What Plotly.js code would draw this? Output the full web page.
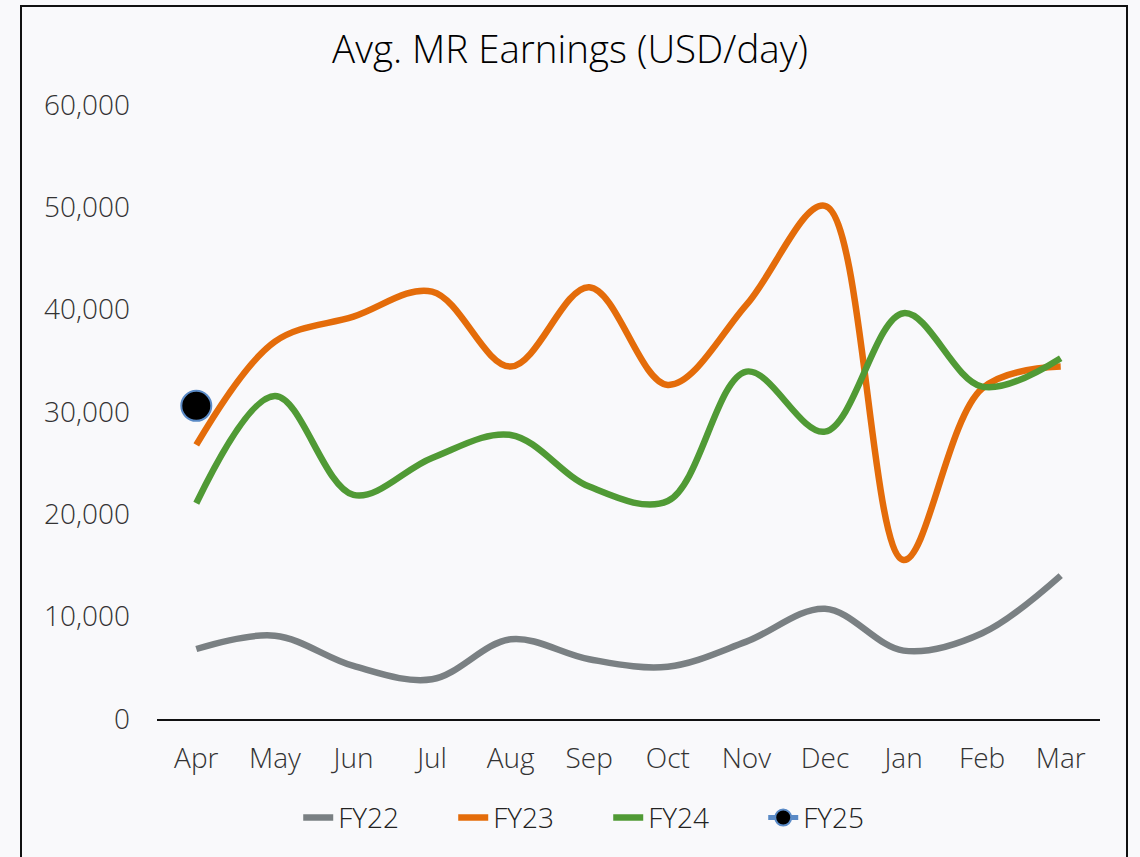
<!DOCTYPE html>
<html>
<head>
<meta charset="utf-8">
<script src="https://cdn.plot.ly/plotly-3.0.1.min.js"></script>
<style>
  html, body { margin: 0; padding: 0; background: #f9f9fb; overflow: hidden; }
  #chart { width: 1140px; height: 857px; }
  #frame { position: absolute; left: 20px; top: 5px; width: 1108px; height: 880px;
           border: 2px solid #111; pointer-events: none; box-sizing: border-box; }
</style>
</head>
<body>
<div id="chart"></div>
<div id="frame"></div>
<script>
const months = ["Apr","May","Jun","Jul","Aug","Sep","Oct","Nov","Dec","Jan","Feb","Mar"];
const fy22 = [6840, 8140, 5180, 3880, 7790, 5840, 5110, 7560, 10780, 6680, 8380, 14010];
const fy23 = [26780, 36880, 39320, 41770, 34440, 42200, 32650, 40470, 50150, 15540, 32300, 34440];
const fy24 = [21080, 31570, 21900, 25510, 27760, 22710, 21300, 33950, 28080, 39660, 32480, 35260];
const fy25 = [30600];
const fy25Months = ["Apr"];

const font = "'Open Sans', Lato, sans-serif";

const traces = [
  { x: months, y: fy22, name: "FY22", type: "scatter", mode: "lines",
    line: { color: "#7a8083", width: 6.5, shape: "spline", smoothing: 1 } },
  { x: months, y: fy23, name: "FY23", type: "scatter", mode: "lines",
    line: { color: "#e46c0a", width: 6.5, shape: "spline", smoothing: 1 } },
  { x: months, y: fy24, name: "FY24", type: "scatter", mode: "lines",
    line: { color: "#509a35", width: 6.5, shape: "spline", smoothing: 1 } },
  { x: fy25Months, y: fy25, name: "FY25", type: "scatter", mode: "lines+markers",
    line: { color: "#5a8ac6", width: 5 },
    marker: { color: "#000000", size: 30, line: { color: "#5a8ac6", width: 2 } } }
];

const layout = {
  width: 1140, height: 857,
  paper_bgcolor: "#f9f9fb", plot_bgcolor: "#f9f9fb",
  margin: { l: 157, r: 40, t: 105, b: 138 },
  font: { family: font, color: "#333333", size: 28, weight: 300 },
  title: { text: "Avg. MR Earnings (USD/day)", font: { family: font, size: 38.5, color: "#000000", weight: 300 },
           x: 0.5, xanchor: "center", y: 0.942, yanchor: "middle" },
  showlegend: true,
  legend: { orientation: "h", x: 0.4785, xanchor: "center", y: -0.161, yanchor: "middle",
            font: { family: font, size: 28, color: "#222222", weight: 300 }, bgcolor: "rgba(0,0,0,0)",
            entrywidth: 110, entrywidthmode: "pixels", itemwidth: 30, tracegroupgap: 0 },
  xaxis: { type: "category", categoryorder: "array", categoryarray: months,
           range: [-0.5, 11.5], showgrid: false, zeroline: false,
           showline: true, linecolor: "#111111", linewidth: 2,
           ticks: "", ticklabelstandoff: 13,
           tickfont: { family: font, size: 28, color: "#333333", weight: 300 } },
  yaxis: { range: [0, 60000], tickvals: [0, 10000, 20000, 30000, 40000, 50000, 60000],
           ticktext: ["0","10,000","20,000","30,000","40,000","50,000","60,000"],
           showgrid: false, zeroline: false, showline: false, ticks: "",
           ticklabelstandoff: 26,
           tickfont: { family: font, size: 28, color: "#333333", weight: 300 } }
};

Plotly.newPlot("chart", traces, layout, { displayModeBar: false, staticPlot: true });
</script>
</body>
</html>
